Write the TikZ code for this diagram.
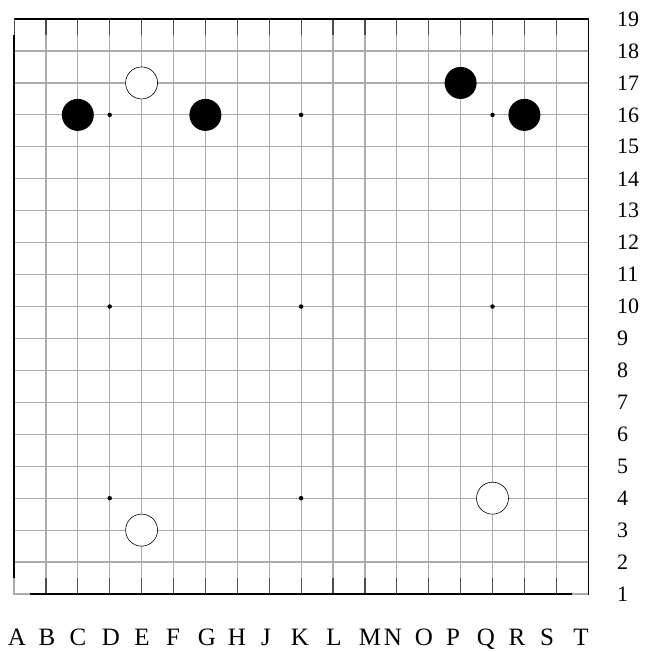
\documentclass[tikz,border=0pt]{standalone}
\usepackage{fontspec}
\setmainfont{Liberation Serif}

\begin{document}
\begin{tikzpicture}[x=31.9pt, y=31.94pt,
    gridline/.style={draw=black!33, line width=1.2pt},
    edgeline/.style={draw=black!70, line width=1.2pt},
    blackstone/.style={circle, fill=black, minimum size=32pt, inner sep=0pt},
    whitestone/.style={circle, draw=black, fill=white, line width=0.6pt, minimum size=32pt, inner sep=0pt},
    hoshi/.style={circle, fill=black, minimum size=4.5pt, inner sep=0pt},
    collabel/.style={anchor=base, inner sep=0pt, font=\fontsize{25}{30}\selectfont},
    rowlabel/.style={anchor=west, inner sep=0pt, font=\fontsize{22}{26}\selectfont}]
        \useasboundingbox (-0.439,-0.816) rectangle (19.81,19.597);

        % Grid lines
        \foreach \i in {1,...,17}
            \draw[gridline] (\i,1) -- (\i,19);
        \foreach \j in {2,...,18}
            \draw[gridline] (0,\j) -- (18,\j);
        \foreach \i in {1,...,17} {
            \draw[edgeline] (\i,18.5) -- (\i,19);
            \draw[edgeline] (\i,1) -- (\i,1.5);
        }

        % Board edge
        \draw[black, line width=1.2pt] (0,18.5) -- (0,1.5);
        \draw[black, line width=1.2pt] (0,19) -- (18,19) -- (18,1) -- (17.5,1);
        \draw[black, line width=1.2pt] (0.5,1) -- (17.5,1);
        \draw[edgeline, line width=0.8pt] (0,19) -- (0,18.5);
        \draw[gridline] (0,1.5) -- (0,1) -- (0.5,1);
        \draw[gridline] (17.5,1) -- (18,1);

        % Star points
        \foreach \c/\r in {3/16,9/16,15/16,3/10,9/10,15/10,3/4,9/4}
            \node[hoshi] (star-\c-\r) at (\c,\r) {};

        % Stones
        \node[blackstone] (c16) at (2,16) {};
        \node[blackstone] (g16) at (6,16) {};
        \node[blackstone] (p17) at (14,17) {};
        \node[blackstone] (r16) at (16,16) {};
        \node[whitestone] (e17) at (4,17) {};
        \node[whitestone] (e3) at (4,3) {};
        \node[whitestone] (q4) at (15,4) {};

        % Coordinates
        \foreach \l/\x in {A/0.094,B/1.034,C/2.006,D/3.041,E/4.013,F/4.984,G/6.050,H/6.991,J/7.900,K/8.966,L/10.031,M/11.160,N/11.881,O/12.853,P/13.762,Q/14.796,R/15.768,S/16.708,T/17.774}
            \node[collabel] (col-\l) at (\x,-0.628) {\l};
        \foreach \r in {1,...,19}
            \node[rowlabel] (row-\r) at (18.90,\r) {\r};
    \end{tikzpicture}
\end{document}
